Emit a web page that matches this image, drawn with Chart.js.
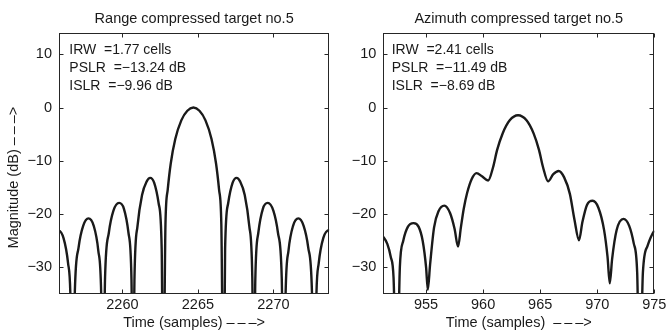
<!DOCTYPE html>
<html>
<head>
<meta charset="utf-8">
<script src="https://cdn.jsdelivr.net/npm/chart.js@4"></script>
<style>
  html, body { margin: 0; padding: 0; background: #fff; }
  #wrap { position: relative; width: 669px; height: 332px; }
  .cell { position: absolute; top: 0; height: 332px; }
</style>
</head>
<body>
<div id="wrap">
  <div class="cell" style="left:0;width:335px"><canvas id="rangeChart"></canvas></div>
  <div class="cell" style="left:335px;width:334px"><canvas id="azChart"></canvas></div>
</div>
<script>
// --- range compressed target (left) ---
const rangeTime = [
  2255.5, 2255.7, 2256.1, 2256.4, 2256.55, 2256.7, 2256.85, 2257.1, 2257.4, 2257.75,
  2258.1, 2258.4, 2258.6, 2258.7, 2258.85, 2259.1, 2259.4, 2259.78, 2260.1, 2260.4,
  2260.6, 2260.7, 2260.8, 2261.0, 2261.3, 2261.6, 2261.84, 2262.1, 2262.4, 2262.6,
  2262.7, 2262.85, 2263.0, 2263.2, 2263.5, 2263.9, 2264.3, 2264.7, 2265.1, 2265.5,
  2265.9, 2266.2, 2266.4, 2266.55, 2266.7, 2266.8, 2267.0, 2267.3, 2267.56, 2267.8,
  2268.1, 2268.4, 2268.6, 2268.7, 2268.8, 2269.0, 2269.3, 2269.62, 2270.0, 2270.3,
  2270.55, 2270.7, 2270.8, 2271.0, 2271.3, 2271.65, 2272.0, 2272.3, 2272.55, 2272.7,
  2272.85, 2273.0, 2273.3, 2273.7, 2273.9
];
const rangeMag = [
  -23.4, -23.0, -24.5, -29.2, -34.8, -60, -34.5, -26.2, -22.2, -20.8,
  -22.2, -26.8, -35.7, -60, -31.9, -23.5, -19.4, -17.9, -19.0, -23.5,
  -32.3, -60, -31.8, -22.2, -16.4, -13.9, -13.2, -14.1, -18.0, -26.5,
  -60, -21.9, -15.4, -10.5, -5.9, -2.4, -0.6, 0, -0.6, -2.4,
  -5.9, -10.5, -15.4, -21.9, -60, -26.5, -18.0, -14.1, -13.2, -13.9,
  -16.4, -22.2, -31.8, -60, -32.3, -23.5, -19.0, -17.9, -19.4, -23.5,
  -31.9, -60, -35.7, -26.8, -22.2, -20.8, -22.2, -26.2, -34.5, -60,
  -34.8, -29.2, -24.5, -23.0, -23.4
];
const rangeTicks = [2260, 2265, 2270];
const rangeStats = ['IRW  =1.77 cells', 'PSLR  =\u221213.24 dB', 'ISLR  =\u22129.96 dB'];

// --- azimuth compressed target (right) ---
const azTime = [
  950.9, 951.25, 951.6, 951.9, 952.15, 952.43, 952.7, 953.0, 953.4, 953.9,
  954.35, 954.7, 955.0, 955.15, 955.35, 955.7, 956.1, 956.6, 957.1, 957.5,
  957.8, 958.05, 958.3, 958.6, 959.0, 959.42, 959.9, 960.44, 960.87, 961.22,
  961.7, 962.33, 963.06, 963.8, 964.43, 964.9, 965.25, 965.69, 966.15, 966.62,
  967.1, 967.6, 968.0, 968.4, 968.7, 969.1, 969.6, 970.1, 970.6, 970.9,
  971.1, 971.3, 971.7, 972.3, 972.8, 973.2, 973.5, 973.72, 974.0, 974.4,
  975.0, 975.3
];
const azMag = [
  -23.6, -24.3, -25.6, -28.0, -32.0, -55, -30.0, -25.0, -22.4, -21.7,
  -22.4, -25.0, -30.0, -34.2, -29.5, -22.5, -19.4, -18.4, -19.8, -22.8,
  -26.1, -22.5, -19.0, -16.0, -13.4, -12.3, -12.9, -13.7, -11.2, -8.0,
  -4.9, -2.4, -1.45, -2.4, -4.9, -8.0, -11.2, -13.85, -12.5, -11.9,
  -13.1, -16.2, -21.0, -24.9, -21.5, -18.3, -17.5, -18.8, -23.0, -28.0,
  -33.0, -28.5, -23.0, -20.9, -22.2, -25.5, -31.0, -55, -31.0, -26.0,
  -23.1, -22.6
];
const azTicks = [955, 960, 965, 970, 975];
const azStats = ['IRW  =2.41 cells', 'PSLR  =\u221211.49 dB', 'ISLR  =\u22128.69 dB'];

const magTicks = [-30, -20, -10, 0, 10];

const INK = '#1a1a1a';
const FONT = "'Liberation Sans', Arial, sans-serif";
Chart.defaults.font.family = FONT;
Chart.defaults.font.size = 14.5;
Chart.defaults.color = INK;

// the arrow in the axis labels is drawn with wide, spaced dashes
const ARROW = '\u2013\u2009\u2013\u2009\u2013>';
const fmt = v => (v < 0 ? '\u2212' + Math.abs(v) : String(v));

// box, inward ticks on all four sides and the stats text
const matlabAxes = {
  id: 'matlabAxes',
  afterDatasetsDraw(chart, args, opts) {
    const { ctx, chartArea: a, scales: { x, y } } = chart;
    const L = Math.round(a.left) + 0.5, R = Math.round(a.right) - 0.5;
    const T = Math.round(a.top) + 0.5, B = Math.round(a.bottom) - 0.5;
    ctx.save();
    ctx.strokeStyle = '#262626';
    ctx.lineWidth = 1;
    ctx.beginPath();
    x.ticks.forEach(t => {
      const px = Math.round(x.getPixelForValue(t.value)) + 0.5;
      ctx.moveTo(px, B); ctx.lineTo(px, B - 4);
      ctx.moveTo(px, T); ctx.lineTo(px, T + 4);
    });
    y.ticks.forEach(t => {
      const py = Math.round(y.getPixelForValue(t.value)) + 0.5;
      ctx.moveTo(L, py); ctx.lineTo(L + 4, py);
      ctx.moveTo(R, py); ctx.lineTo(R - 4, py);
    });
    ctx.stroke();
    ctx.strokeRect(L, T, R - L, B - T);
    ctx.fillStyle = INK;
    ctx.font = '14px ' + FONT;
    ctx.textBaseline = 'middle';
    opts.lines.forEach((s, i) => ctx.fillText(s, a.left + opts.dx, a.top + 17 + i * 18));
    ctx.restore();
  }
};

function makeChart(id, times, mags, cfg) {
  const ctx = document.getElementById(id).getContext('2d');
  return new Chart(ctx, {
    type: 'line',
    data: {
      datasets: [{
        data: times.map((t, i) => ({ x: t, y: mags[i] })),
        borderColor: INK,
        borderWidth: 2.4,
        pointRadius: 0,
        fill: false,
        cubicInterpolationMode: 'monotone',
        clip: 0
      }]
    },
    options: {
      responsive: true,
      maintainAspectRatio: false,
      animation: false,
      devicePixelRatio: 1,
      layout: { padding: { left: 0, right: cfg.padRight, top: 0, bottom: 0 } },
      plugins: {
        legend: { display: false },
        tooltip: { enabled: false },
        title: {
          display: true,
          text: cfg.title,
          fullSize: false,
          color: INK,
          font: { size: 14.5, weight: 'normal' },
          padding: { top: 10.5, bottom: 5.1 }
        },
        matlabAxes: { lines: cfg.stats, dx: cfg.dx }
      },
      scales: {
        x: {
          type: 'linear',
          min: cfg.xMin,
          max: cfg.xMax,
          grid: { display: false, drawTicks: false },
          border: { display: false },
          afterBuildTicks: s => { s.ticks = cfg.xTicks.map(v => ({ value: v })); },
          afterFit: s => { s.height = 38; },
          ticks: { padding: 2, maxRotation: 0, autoSkip: false, callback: v => String(v) },
          title: { display: true, text: cfg.xTitle, padding: { top: 0, bottom: 0.5 } }
        },
        y: {
          type: 'linear',
          min: -35,
          max: 14,
          grid: { display: false, drawTicks: false },
          border: { display: false },
          afterBuildTicks: s => { s.ticks = magTicks.map(v => ({ value: v })); },
          afterFit: s => { s.width = cfg.yWidth; },
          ticks: { padding: 7, callback: fmt },
          title: { display: !!cfg.yTitle, text: cfg.yTitle || '', padding: { top: 5, bottom: 0 } }
        }
      }
    },
    plugins: [matlabAxes]
  });
}

makeChart('rangeChart', rangeTime, rangeMag, {
  title: 'Range compressed target no.5',
  xMin: 2255.8, xMax: 2273.7, xTicks: rangeTicks,
  xTitle: 'Time (samples) ' + ARROW,
  // trailing spaces push the label down the axis as in the original
  yTitle: 'Magnitude (dB) ' + ARROW + '       ',
  stats: rangeStats, dx: 10.3,
  yWidth: 59, padRight: 5.7
});

makeChart('azChart', azTime, azMag, {
  title: 'Azimuth compressed target no.5',
  xMin: 951.25, xMax: 975, xTicks: azTicks,
  xTitle: 'Time (samples)  ' + ARROW,
  yTitle: null,
  stats: azStats, dx: 8.4,
  yWidth: 48.3, padRight: 14.7
});
</script>
</body>
</html>
